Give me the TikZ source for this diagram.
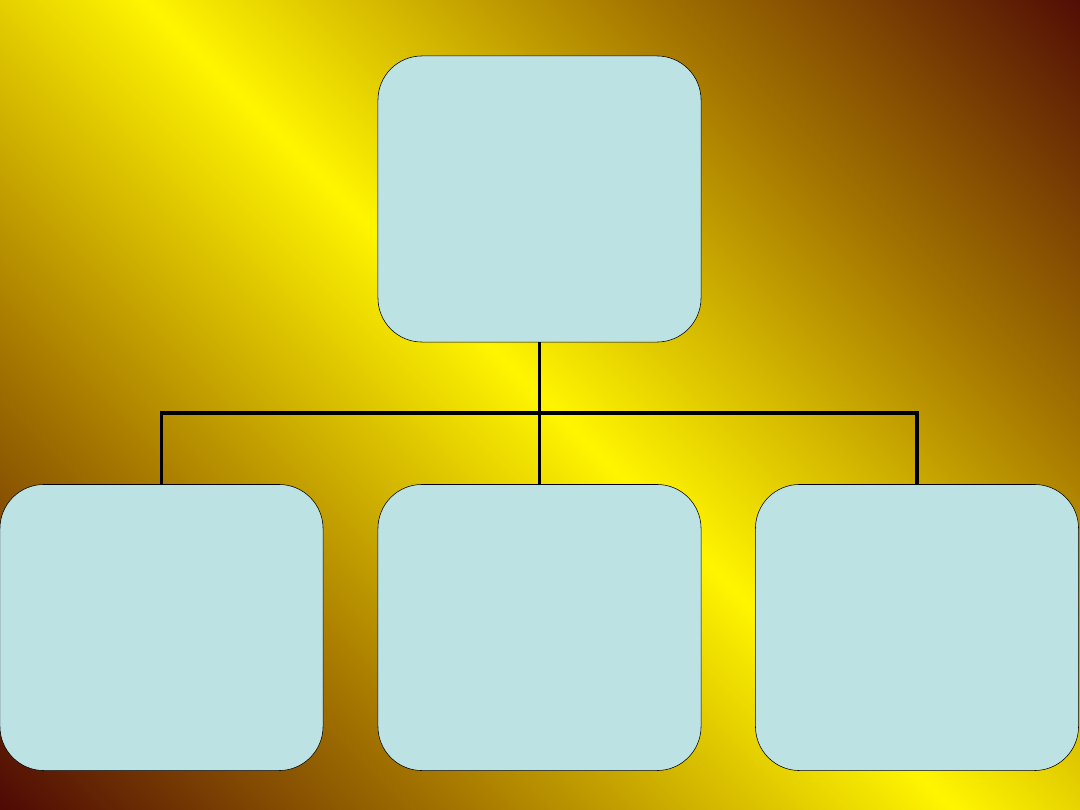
\documentclass[tikz,border=0pt]{standalone}
\usetikzlibrary{positioning}

\definecolor{bgdark}{RGB}{79,10,5}
\definecolor{bggold}{RGB}{168,122,0}
\definecolor{bgyellow}{RGB}{255,245,0}
\definecolor{boxfill}{RGB}{189,226,228}

\pgfdeclarehorizontalshading{bgshade}{100bp}{color(0bp)=(bgdark); color(25bp)=(bgdark); color(37.5bp)=(bggold); color(50bp)=(bgyellow); color(62.5bp)=(bggold); color(75bp)=(bgdark); color(100bp)=(bgdark)}

\tikzset{
    chartbox/.style={draw=black, fill=boxfill, rounded corners=1.1cm, minimum width=8.075cm, minimum height=7.15cm, inner sep=0pt},
    link/.style={draw=black, line width=2.4pt}
}

\begin{document}
\begin{tikzpicture}[x=0.025cm, y=-0.025cm]

    \useasboundingbox (0,0) rectangle (1080,810);

    % background
    \begin{scope}
        \clip (0,0) rectangle (1080,810);
        \shade[shading=bgshade, shading angle=45] (550,405) +(-675,-675) rectangle +(675,675);
    \end{scope}

    \node[chartbox] (head) at (539.5,199) {};
    \node[chartbox] (left) at (161.5,627.5) {};
    \node[chartbox] (mid) at (539.5,627.5) {};
    \node[chartbox] (right) at (917,627.5) {};

    \coordinate (fork) at (539.5,413);

    \draw[link] (head.south) -- (fork);
    \draw[link] (left.north) |- (fork) -| (right.north);
    \draw[link] (fork) -- (mid.north);

\end{tikzpicture}
\end{document}
